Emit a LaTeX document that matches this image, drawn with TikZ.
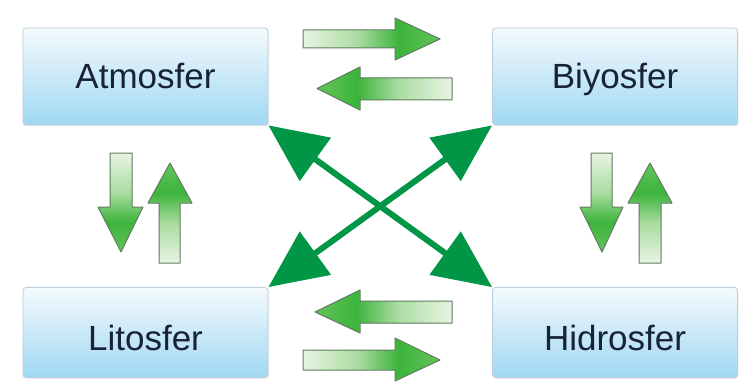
\documentclass[tikz,border=0pt]{standalone}
\usepackage{fontspec}
\setmainfont{Liberation Sans}
\usetikzlibrary{arrows.meta,shadows}
\definecolor{boxtop}{RGB}{244,250,253}
\definecolor{boxbot}{RGB}{160,216,243}
\definecolor{boxedge}{RGB}{185,205,220}
\definecolor{textcol}{RGB}{25,35,55}
\definecolor{xgreen}{RGB}{0,150,70}
\definecolor{fpale}{RGB}{232,244,228}
\definecolor{fmid}{RGB}{170,220,160}
\definecolor{fgreen}{RGB}{60,180,60}
\definecolor{fgreentwo}{RGB}{100,195,90}
\definecolor{fatedge}{RGB}{95,125,95}
\pgfdeclarehorizontalshading{fatgrad}{100bp}{color(0bp)=(fpale); color(25bp)=(fpale); color(45bp)=(fmid); color(60bp)=(fgreen); color(75bp)=(fgreentwo); color(100bp)=(fgreentwo)}
\begin{document}
\begin{tikzpicture}[x=1pt,y=-1pt,
  box/.style={draw=boxedge, line width=0.8pt, rounded corners=3pt,
    top color=boxtop, bottom color=boxbot, minimum width=245pt,
    inner sep=0pt, font=\fontsize{35}{40}\selectfont, text=textcol,
    text height=25pt, text depth=0pt,
    drop shadow={opacity=0.12, shadow xshift=1pt, shadow yshift=-1.5pt}},
  fat/.style={draw=fatedge, line width=1pt, line join=round, shade, shading=fatgrad},
  cross/.style={draw=xgreen, line width=6pt,
    {Triangle[length=58pt,width=52pt]}-{Triangle[length=58pt,width=52pt]}}]
\useasboundingbox (0,0) rectangle (744,385);
\fill[white] (0,0) rectangle (744,385);
% boxes
\node[box, minimum height=97pt] (atm) at (145.5,76.5) {Atmosfer};
\node[box, minimum height=97pt] (bio) at (615,76.5) {Biyosfer};
\node[box, minimum height=90pt, text height=35pt] (lit) at (145.5,332.5) {Litosfer};
\node[box, minimum height=90pt, text height=35pt] (hid) at (615,332.5) {Hidrosfer};
% cross arrows
\draw[cross] (atm.south east) -- (hid.north west);
\draw[cross] (lit.north east) -- (bio.south west);
% top pair
\path[fat] (303,30) -- (395,30) -- (395,18) -- (440,39) -- (395,60) -- (395,48) -- (303,48) -- cycle;
\path[fat, shading angle=180] (452,78) -- (360,78) -- (360,67) -- (317,88.5) -- (360,110) -- (360,100) -- (452,100) -- cycle;
% bottom pair
\path[fat, shading angle=180] (452,301) -- (360,301) -- (360,290) -- (315,312) -- (360,333) -- (360,323) -- (452,323) -- cycle;
\path[fat] (303,350) -- (395,350) -- (395,338) -- (440,360) -- (395,381) -- (395,370) -- (303,370) -- cycle;
% left pair
\path[fat, shading angle=-90] (110,153) -- (110,207) -- (98,207) -- (121,252) -- (143,207) -- (132,207) -- (132,153) -- cycle;
\path[fat, shading angle=90] (159,263) -- (159,203) -- (148,203) -- (170,163) -- (192,203) -- (180,203) -- (180,263) -- cycle;
% right pair
\path[fat, shading angle=-90] (591,153) -- (591,207) -- (580,207) -- (602,252) -- (623,207) -- (612,207) -- (612,153) -- cycle;
\path[fat, shading angle=90] (639,263) -- (639,203) -- (628,203) -- (650,163) -- (672,203) -- (661,203) -- (661,263) -- cycle;
\end{tikzpicture}
\end{document}
